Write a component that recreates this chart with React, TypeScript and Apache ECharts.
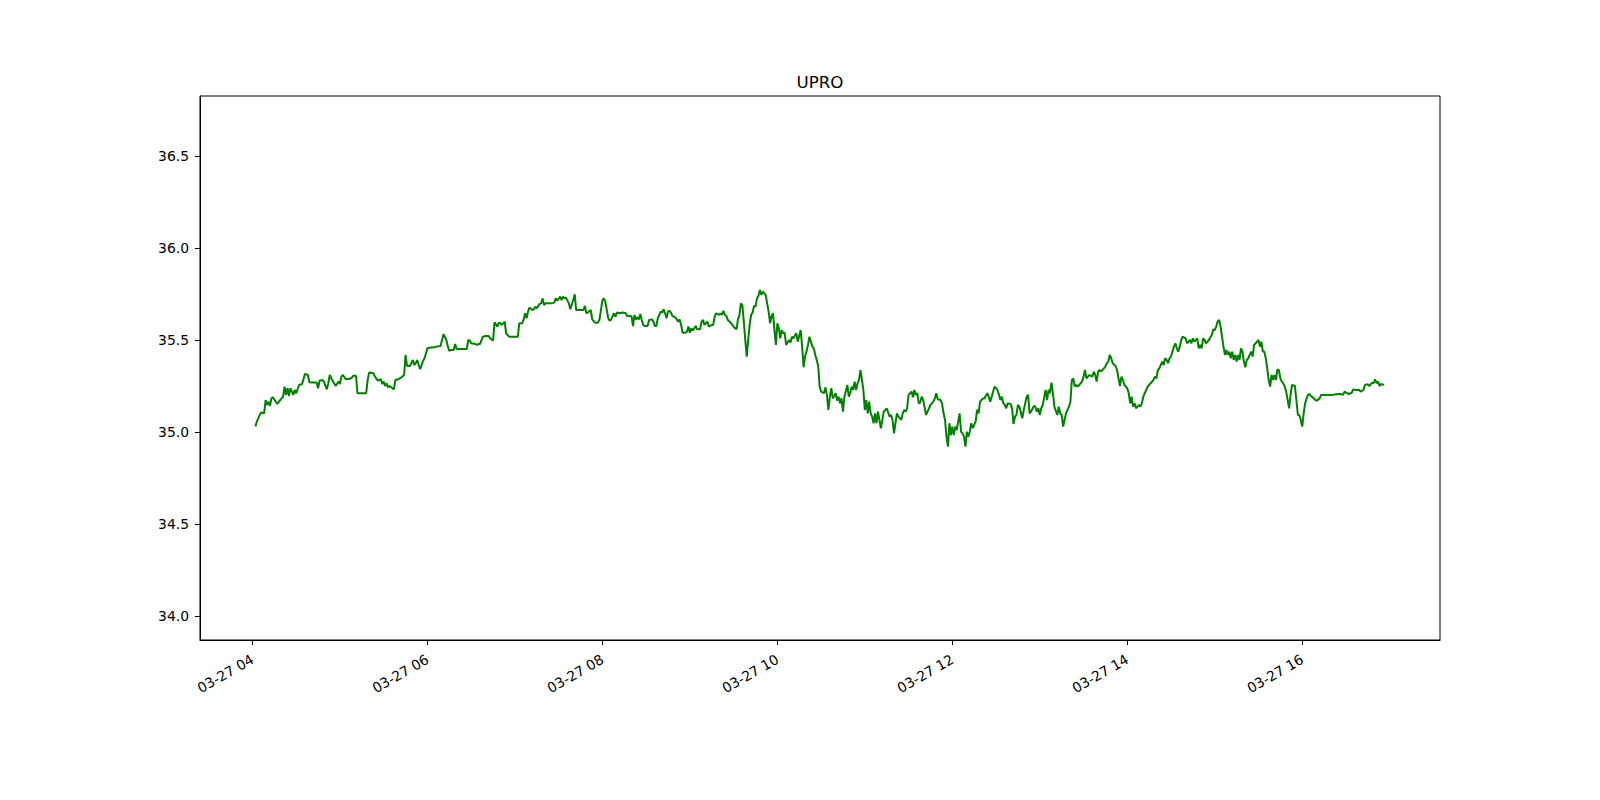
import React, { useEffect, useRef } from 'react';
import * as echarts from 'echarts';

const TITLE = 'UPRO';
const DATE_LABEL = '03-27';
const yTicks = [34.0, 34.5, 35.0, 35.5, 36.0, 36.5];
const xTickTimes = ['04:00', '06:00', '08:00', '10:00', '12:00', '14:00', '16:00'];
const yMin = 33.872;
const yMax = 36.826;
const xMin = '03:24:00';
const xMax = '17:34:30';

const quotes: [string, number][] = [
  ['04:02', 35.031], ['04:03', 35.058], ['04:05', 35.094], ['04:06', 35.107], ['04:08', 35.103], ['04:09', 35.175],
  ['04:10', 35.148], ['04:11', 35.166], ['04:12', 35.143], ['04:13', 35.184], ['04:14', 35.19], ['04:16', 35.166],
  ['04:17', 35.154], ['04:19', 35.175], ['04:20', 35.184], ['04:21', 35.193], ['04:22', 35.248], ['04:23', 35.203],
  ['04:24', 35.239], ['04:25', 35.197], ['04:26', 35.239], ['04:28', 35.203], ['04:29', 35.23], ['04:30', 35.212],
  ['04:32', 35.257], ['04:34', 35.262], ['04:36', 35.317], ['04:38', 35.311], ['04:39', 35.271], ['04:42', 35.27],
  ['04:44', 35.27], ['04:45', 35.239], ['04:46', 35.28], ['04:48', 35.284], ['04:49', 35.275], ['04:51', 35.233],
  ['04:52', 35.266], ['04:53', 35.311], ['04:54', 35.293], ['04:56', 35.266], ['04:57', 35.251], ['04:59', 35.275],
  ['05:00', 35.262], ['05:01', 35.302], ['05:02', 35.311], ['05:04', 35.289], ['05:06', 35.289], ['05:08', 35.295],
  ['05:09', 35.307], ['05:11', 35.307], ['05:12', 35.212], ['05:15', 35.212], ['05:18', 35.212], ['05:19', 35.284],
  ['05:20', 35.324], ['05:23', 35.32], ['05:24', 35.302], ['05:26', 35.28], ['05:28', 35.288], ['05:29', 35.262],
  ['05:30', 35.275], ['05:31', 35.251], ['05:32', 35.266], ['05:33', 35.244], ['05:34', 35.251], ['05:36', 35.239],
  ['05:37', 35.233], ['05:38', 35.284], ['05:40', 35.288], ['05:42', 35.297], ['05:44', 35.311], ['05:45', 35.42],
  ['05:46', 35.36], ['05:48', 35.36], ['05:50', 35.393], ['05:51', 35.365], ['05:52', 35.375], ['05:53', 35.393],
  ['05:54', 35.365], ['05:55', 35.342], ['05:57', 35.387], ['05:58', 35.402],
  ['06:00', 35.456], ['06:02', 35.46], ['06:04', 35.46], ['06:06', 35.465], ['06:09', 35.469], ['06:11', 35.532],
  ['06:13', 35.501], ['06:14', 35.465], ['06:15', 35.441], ['06:16', 35.447], ['06:18', 35.447], ['06:19', 35.479],
  ['06:20', 35.452], ['06:25', 35.452], ['06:27', 35.452], ['06:28', 35.501], ['06:29', 35.498], ['06:30', 35.483],
  ['06:33', 35.479], ['06:34', 35.474], ['06:35', 35.479], ['06:36', 35.479], ['06:38', 35.519], ['06:40', 35.523],
  ['06:42', 35.523], ['06:43', 35.51], ['06:45', 35.498], ['06:46', 35.597], ['06:48', 35.574], ['06:49', 35.595],
  ['06:50', 35.592], ['06:51', 35.583], ['06:53', 35.601], ['06:54', 35.537], ['06:56', 35.519], ['06:58', 35.519],
  ['07:02', 35.519], ['07:03', 35.592], ['07:05', 35.592], ['07:06', 35.613], ['07:07', 35.646], ['07:08', 35.619],
  ['07:09', 35.655], ['07:10', 35.677], ['07:12', 35.664], ['07:13', 35.668], ['07:14', 35.682], ['07:15', 35.673],
  ['07:16', 35.686], ['07:17', 35.697], ['07:18', 35.7], ['07:19', 35.727], ['07:20', 35.691], ['07:21', 35.7],
  ['07:23', 35.7], ['07:25', 35.7], ['07:27', 35.704], ['07:28', 35.727], ['07:29', 35.715], ['07:30', 35.724],
  ['07:31', 35.737], ['07:32', 35.718], ['07:33', 35.737], ['07:34', 35.727], ['07:35', 35.731], ['07:37', 35.7],
  ['07:38', 35.668], ['07:40', 35.718], ['07:41', 35.749], ['07:42', 35.664], ['07:45', 35.664], ['07:47', 35.664],
  ['07:48', 35.686], ['07:49', 35.646], ['07:50', 35.65], ['07:52', 35.664], ['07:53', 35.613], ['07:55', 35.595],
  ['07:57', 35.595], ['07:58', 35.613],
  ['08:00', 35.715], ['08:01', 35.727], ['08:02', 35.709], ['08:03', 35.664], ['08:04', 35.619], ['08:05', 35.606],
  ['08:06', 35.613], ['08:08', 35.646], ['08:09', 35.628], ['08:10', 35.65], ['08:12', 35.646], ['08:14', 35.65],
  ['08:16', 35.646], ['08:17', 35.632], ['08:19', 35.632], ['08:20', 35.628], ['08:21', 35.577], ['08:22', 35.637],
  ['08:23', 35.613], ['08:24', 35.624], ['08:25', 35.613], ['08:26', 35.642], ['08:27', 35.61], ['08:28', 35.583],
  ['08:29', 35.577], ['08:31', 35.577], ['08:32', 35.61], ['08:34', 35.613], ['08:35', 35.601], ['08:36', 35.577],
  ['08:37', 35.577], ['08:38', 35.619], ['08:40', 35.655], ['08:41', 35.65], ['08:42', 35.668], ['08:43', 35.646],
  ['08:44', 35.619], ['08:45', 35.655], ['08:46', 35.66], ['08:47', 35.65], ['08:48', 35.632], ['08:50', 35.624],
  ['08:51', 35.613], ['08:52', 35.601], ['08:53', 35.613], ['08:54', 35.583], ['08:55', 35.541], ['08:57', 35.541],
  ['08:58', 35.546], ['08:59', 35.574],
  ['09:00', 35.541], ['09:01', 35.565], ['09:02', 35.552], ['09:04', 35.577], ['09:05', 35.559], ['09:07', 35.559],
  ['09:08', 35.601], ['09:09', 35.61], ['09:10', 35.583], ['09:12', 35.601], ['09:13', 35.574], ['09:15', 35.583],
  ['09:16', 35.583], ['09:17', 35.628], ['09:18', 35.646], ['09:20', 35.637], ['09:21', 35.646], ['09:22', 35.637],
  ['09:23', 35.66], ['09:24', 35.637], ['09:25', 35.632], ['09:26', 35.61], ['09:28', 35.595], ['09:30', 35.574],
  ['09:31', 35.565], ['09:32', 35.559], ['09:33', 35.613], ['09:34', 35.637], ['09:35', 35.7], ['09:36', 35.691],
  ['09:37', 35.601], ['09:38', 35.501], ['09:39', 35.411], ['09:40', 35.501], ['09:41', 35.583], ['09:42', 35.637],
  ['09:43', 35.65], ['09:44', 35.686], ['09:45', 35.682], ['09:46', 35.727], ['09:47', 35.74], ['09:48', 35.773],
  ['09:49', 35.746], ['09:50', 35.764], ['09:52', 35.746], ['09:53', 35.7], ['09:54', 35.655], ['09:55', 35.592],
  ['09:56', 35.632], ['09:57', 35.646], ['09:58', 35.555], ['09:59', 35.474],
  ['10:00', 35.592], ['10:01', 35.565], ['10:02', 35.51], ['10:03', 35.555], ['10:04', 35.537], ['10:05', 35.541],
  ['10:06', 35.474], ['10:08', 35.501], ['10:09', 35.487], ['10:10', 35.519], ['10:11', 35.51], ['10:13', 35.537],
  ['10:14', 35.492], ['10:16', 35.555], ['10:17', 35.465], ['10:18', 35.353], ['10:19', 35.411], ['10:20', 35.438],
  ['10:21', 35.474], ['10:22', 35.519], ['10:24', 35.465], ['10:25', 35.456], ['10:26', 35.42], ['10:27', 35.393],
  ['10:28', 35.36], ['10:29', 35.248], ['10:30', 35.221], ['10:32', 35.212], ['10:33', 35.244], ['10:34', 35.203],
  ['10:35', 35.121], ['10:36', 35.193], ['10:37', 35.239], ['10:38', 35.184], ['10:40', 35.212], ['10:41', 35.172],
  ['10:42', 35.193], ['10:43', 35.157], ['10:44', 35.184], ['10:45', 35.112], ['10:46', 35.193], ['10:48', 35.257],
  ['10:49', 35.193], ['10:50', 35.212], ['10:51', 35.248], ['10:52', 35.23], ['10:53', 35.275], ['10:54', 35.23],
  ['10:55', 35.266], ['10:56', 35.284], ['10:57', 35.338], ['10:58', 35.284], ['10:59', 35.23],
  ['11:00', 35.121], ['11:01', 35.175], ['11:02', 35.103], ['11:03', 35.166], ['11:04', 35.103], ['11:05', 35.085],
  ['11:06', 35.049], ['11:07', 35.103], ['11:08', 35.049], ['11:09', 35.112], ['11:10', 35.067], ['11:11', 35.022],
  ['11:12', 35.067], ['11:13', 35.112], ['11:14', 35.121], ['11:15', 35.13], ['11:17', 35.085], ['11:18', 35.094],
  ['11:19', 35.067], ['11:20', 34.994], ['11:21', 35.049], ['11:22', 35.103], ['11:23', 35.085], ['11:25', 35.067],
  ['11:26', 35.103], ['11:27', 35.121], ['11:28', 35.112], ['11:29', 35.13], ['11:30', 35.203], ['11:32', 35.221],
  ['11:33', 35.19], ['11:34', 35.23], ['11:35', 35.203], ['11:36', 35.212], ['11:37', 35.157], ['11:38', 35.161],
  ['11:39', 35.193], ['11:40', 35.175], ['11:41', 35.136], ['11:42', 35.094], ['11:44', 35.13], ['11:45', 35.148],
  ['11:47', 35.166], ['11:48', 35.184], ['11:49', 35.212], ['11:50', 35.179], ['11:52', 35.175], ['11:53', 35.154],
  ['11:54', 35.103], ['11:55', 35.067], ['11:56', 34.976], ['11:57', 34.922], ['11:58', 35.049], ['11:59', 34.985],
  ['12:00', 35.031], ['12:01', 34.985], ['12:02', 35.031], ['12:03', 35.012], ['12:05', 35.103], ['12:06', 35.003],
  ['12:07', 34.994], ['12:08', 34.976], ['12:09', 34.922], ['12:10', 35.003], ['12:11', 34.976], ['12:12', 35.003],
  ['12:13', 35.049], ['12:14', 35.022], ['12:16', 35.058], ['12:17', 35.121], ['12:18', 35.103], ['12:19', 35.166],
  ['12:20', 35.175], ['12:21', 35.184], ['12:22', 35.184], ['12:24', 35.212], ['12:25', 35.193], ['12:26', 35.166],
  ['12:27', 35.193], ['12:28', 35.221], ['12:29', 35.248], ['12:31', 35.23], ['12:32', 35.203], ['12:33', 35.175],
  ['12:34', 35.193], ['12:35', 35.157], ['12:36', 35.148], ['12:37', 35.13], ['12:38', 35.157], ['12:40', 35.154],
  ['12:41', 35.13], ['12:42', 35.045], ['12:43', 35.085], ['12:44', 35.094], ['12:45', 35.148], ['12:46', 35.139],
  ['12:48', 35.076], ['12:49', 35.121], ['12:50', 35.157], ['12:51', 35.193], ['12:52', 35.203], ['12:53', 35.103],
  ['12:54', 35.112], ['12:56', 35.143], ['12:57', 35.139], ['12:58', 35.112], ['12:59', 35.13],
  ['13:00', 35.094], ['13:01', 35.13], ['13:02', 35.148], ['13:04', 35.23], ['13:05', 35.175], ['13:06', 35.23],
  ['13:07', 35.212], ['13:08', 35.27], ['13:09', 35.212], ['13:10', 35.139], ['13:12', 35.094], ['13:13', 35.139],
  ['13:14', 35.103], ['13:15', 35.094], ['13:16', 35.031], ['13:17', 35.067], ['13:18', 35.103], ['13:20', 35.139],
  ['13:21', 35.166], ['13:22', 35.284], ['13:23', 35.293], ['13:24', 35.248], ['13:25', 35.257], ['13:26', 35.248],
  ['13:28', 35.266], ['13:29', 35.275], ['13:30', 35.302], ['13:31', 35.338], ['13:32', 35.293], ['13:33', 35.302],
  ['13:34', 35.311], ['13:36', 35.302], ['13:37', 35.329], ['13:38', 35.311], ['13:39', 35.275], ['13:40', 35.329],
  ['13:41', 35.338], ['13:42', 35.329], ['13:44', 35.347], ['13:45', 35.356], ['13:46', 35.375], ['13:47', 35.384],
  ['13:48', 35.42], ['13:49', 35.402], ['13:50', 35.375], ['13:52', 35.36], ['13:53', 35.338], ['13:54', 35.293],
  ['13:55', 35.251], ['13:56', 35.302], ['13:57', 35.284], ['13:58', 35.257],
  ['14:00', 35.239], ['14:01', 35.212], ['14:02', 35.157], ['14:03', 35.193], ['14:04', 35.139], ['14:05', 35.157],
  ['14:06', 35.13], ['14:08', 35.148], ['14:09', 35.139], ['14:10', 35.157], ['14:11', 35.193], ['14:12', 35.212],
  ['14:13', 35.23], ['14:14', 35.248], ['14:16', 35.266], ['14:17', 35.275], ['14:18', 35.284], ['14:19', 35.302],
  ['14:20', 35.293], ['14:21', 35.338], ['14:22', 35.347], ['14:24', 35.384], ['14:25', 35.365], ['14:26', 35.402],
  ['14:27', 35.393], ['14:28', 35.375], ['14:29', 35.402], ['14:30', 35.411], ['14:32', 35.465], ['14:33', 35.483],
  ['14:34', 35.456], ['14:35', 35.438], ['14:36', 35.465], ['14:37', 35.501], ['14:38', 35.519], ['14:40', 35.51],
  ['14:41', 35.483], ['14:42', 35.492], ['14:43', 35.501], ['14:44', 35.483], ['14:45', 35.51], ['14:46', 35.492],
  ['14:48', 35.51], ['14:49', 35.456], ['14:50', 35.474], ['14:51', 35.456], ['14:52', 35.51], ['14:53', 35.501],
  ['14:54', 35.483], ['14:56', 35.501], ['14:57', 35.516], ['14:58', 35.528], ['14:59', 35.559],
  ['15:00', 35.555], ['15:01', 35.574], ['15:02', 35.601], ['15:03', 35.61], ['15:04', 35.574], ['15:05', 35.519],
  ['15:06', 35.465], ['15:07', 35.42], ['15:08', 35.447], ['15:09', 35.42], ['15:10', 35.438], ['15:11', 35.402],
  ['15:12', 35.438], ['15:13', 35.393], ['15:14', 35.42], ['15:15', 35.384], ['15:16', 35.42], ['15:17', 35.393],
  ['15:18', 35.456], ['15:19', 35.438], ['15:20', 35.384], ['15:21', 35.353], ['15:22', 35.393], ['15:23', 35.402],
  ['15:24', 35.42], ['15:25', 35.438], ['15:26', 35.411], ['15:27', 35.474], ['15:29', 35.492], ['15:30', 35.501],
  ['15:31', 35.465], ['15:32', 35.492], ['15:33', 35.438], ['15:34', 35.438], ['15:35', 35.402], ['15:36', 35.347],
  ['15:37', 35.284], ['15:38', 35.248], ['15:39', 35.311], ['15:40', 35.284], ['15:41', 35.311], ['15:42', 35.284],
  ['15:43', 35.342], ['15:44', 35.338], ['15:45', 35.293], ['15:46', 35.275], ['15:47', 35.266], ['15:48', 35.248],
  ['15:49', 35.221], ['15:50', 35.175], ['15:51', 35.13], ['15:52', 35.203], ['15:53', 35.257], ['15:55', 35.251],
  ['15:56', 35.175], ['15:57', 35.094], ['15:58', 35.094], ['15:59', 35.067],
  ['16:00', 35.031], ['16:01', 35.103], ['16:02', 35.157], ['16:03', 35.184], ['16:04', 35.203], ['16:05', 35.208],
  ['16:06', 35.197], ['16:08', 35.184], ['16:09', 35.175], ['16:10', 35.172], ['16:12', 35.184], ['16:13', 35.203],
  ['16:16', 35.203], ['16:19', 35.203], ['16:21', 35.203], ['16:23', 35.206], ['16:26', 35.208], ['16:28', 35.203],
  ['16:29', 35.221], ['16:30', 35.215], ['16:32', 35.208], ['16:34', 35.215], ['16:35', 35.233], ['16:37', 35.23],
  ['16:39', 35.23], ['16:40', 35.221], ['16:42', 35.23], ['16:43', 35.257], ['16:45', 35.261], ['16:46', 35.251],
  ['16:48', 35.27], ['16:49', 35.266], ['16:50', 35.288], ['16:51', 35.266], ['16:52', 35.275], ['16:53', 35.251],
  ['16:54', 35.262], ['16:56', 35.257],
];

const toTs = (hhmm: string): number => {
  const [h, m, s] = hhmm.split(':').map(Number);
  return Date.UTC(2024, 2, 27, h, m, s || 0);
};

const FONT = '"DejaVu Sans", "Liberation Sans", sans-serif';

export default function App() {
  const ref = useRef<HTMLDivElement>(null);

  useEffect(() => {
    if (!ref.current) return;
    const chart = echarts.init(ref.current, undefined, { renderer: 'svg' });
    const xTicks = xTickTimes.map(toTs);
    const data = quotes.map(([t, v]) => [toTs(t), v]);

    chart.setOption({
      animation: false,
      backgroundColor: '#ffffff',
      textStyle: { fontFamily: FONT },
      grid: {
        left: 200,
        right: 160,
        top: 96,
        bottom: 160,
        show: true,
        borderColor: '#000000',
        borderWidth: 1,
        backgroundColor: 'transparent',
        containLabel: false,
        outerBoundsMode: 'none',
      },
      graphic: [
        {
          type: 'text',
          x: 820,
          y: 82,
          style: {
            text: TITLE,
            fill: '#000000',
            fontSize: 16.7,
            fontFamily: FONT,
            textAlign: 'center',
            textVerticalAlign: 'middle',
            align: 'center',
            verticalAlign: 'middle',
          },
        },
      ],
      xAxis: {
        type: 'value',
        min: toTs(xMin),
        max: toTs(xMax),
        scale: true,
        axisLine: { show: true, onZero: false, lineStyle: { color: '#000000', width: 1 } },
        axisTick: {
          show: true,
          customValues: xTicks,
          length: 5,
          lineStyle: { color: '#000000', width: 1 },
        },
        axisLabel: {
          show: true,
          customValues: xTicks,
          rotate: 30,
          margin: 18,
          fontSize: 13.9,
          color: '#000000',
          fontFamily: FONT,
          formatter: (v: number) => {
            const d = new Date(v);
            return `${DATE_LABEL} ${String(d.getUTCHours()).padStart(2, '0')}`;
          },
        },
        splitLine: { show: false },
      },
      yAxis: {
        type: 'value',
        min: yMin,
        max: yMax,
        axisLine: { show: true, onZero: false, lineStyle: { color: '#000000', width: 1 } },
        axisTick: {
          show: true,
          customValues: yTicks,
          length: 5,
          lineStyle: { color: '#000000', width: 1 },
        },
        axisLabel: {
          show: true,
          customValues: yTicks,
          margin: 11,
          fontSize: 13.9,
          color: '#000000',
          fontFamily: FONT,
          formatter: (v: number) => v.toFixed(1),
        },
        splitLine: { show: false },
      },
      series: [
        {
          type: 'line',
          name: TITLE,
          data,
          symbol: 'none',
          showSymbol: false,
          lineStyle: { color: '#008000', width: 2 },
          itemStyle: { color: '#008000' },
          emphasis: { disabled: true },
          silent: true,
        },
      ],
    });

    return () => chart.dispose();
  }, []);

  return (
    <div
      ref={ref}
      style={{ position: 'absolute', left: 0, top: 0, width: 1600, height: 800, background: '#fff' }}
    />
  );
}
